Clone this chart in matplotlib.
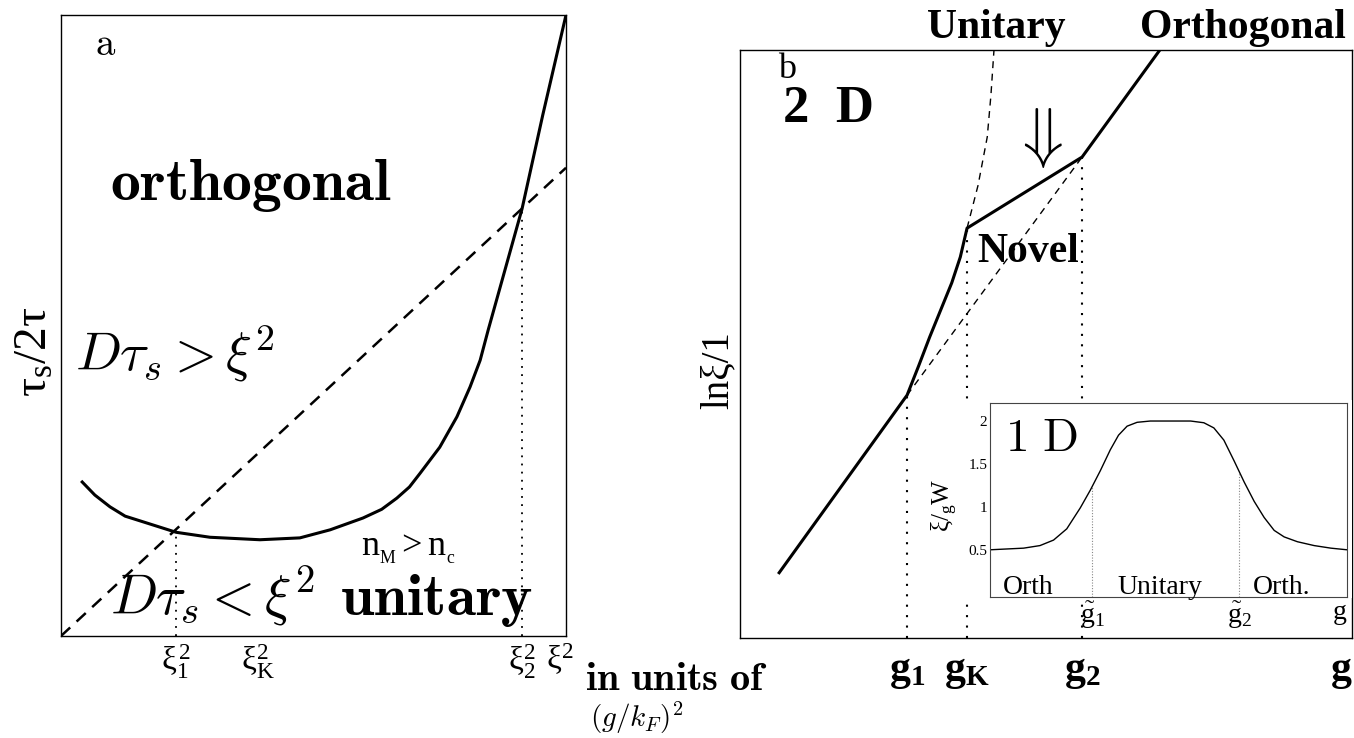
import numpy as np
import matplotlib
matplotlib.use("Agg")
import matplotlib.pyplot as plt
from matplotlib.patches import Rectangle
import matplotlib.transforms as mtransforms

plt.rcParams['font.family'] = 'serif'
plt.rcParams['font.serif'] = ['Liberation Serif', 'DejaVu Serif']
plt.rcParams['mathtext.fontset'] = 'custom'
plt.rcParams['mathtext.rm'] = 'Liberation Serif'
plt.rcParams['mathtext.it'] = 'Liberation Serif:italic'
plt.rcParams['mathtext.bf'] = 'Liberation Serif:bold'

# ---- panel a : tau_s/2tau vs xi^2 ----
a_curve_x = [0.042, 0.067, 0.097, 0.127, 0.162, 0.228, 0.295, 0.394, 0.473, 0.533,
             0.598, 0.635, 0.665, 0.690, 0.711, 0.750, 0.784, 0.810, 0.830, 0.846,
             0.879, 0.913, 0.954, 1.0]
a_curve_y = [0.248, 0.227, 0.208, 0.193, 0.184, 0.167, 0.159, 0.155, 0.158, 0.171,
             0.190, 0.204, 0.222, 0.240, 0.262, 0.304, 0.353, 0.401, 0.444, 0.493,
             0.589, 0.688, 0.839, 1.0]
a_line_x = [0.0, 1.0]          # D tau_s = xi^2
a_line_y = [0.0, 0.754]
a_ticks = [0.228, 0.39, 0.913, 0.988]
a_ticklabels = [r'$\mathrm{\xi}_1^{\,2}$', r'$\mathrm{\xi}_{\rm K}^{2}$',
                r'$\mathrm{\xi}_2^{2}$', r'$\mathrm{\xi}^{2}$']
a_crossings = [0.228, 0.913]   # xi_1^2, xi_2^2

# ---- panel b : ln xi/l vs g (2D) ----
b_line_x = [0.064, 0.273, 0.292, 0.310, 0.328, 0.346, 0.360, 0.371, 0.559, 0.686]
b_line_y = [0.111, 0.413, 0.463, 0.512, 0.558, 0.604, 0.648, 0.697, 0.818, 1.0]
b_unit_x = [0.371, 0.389, 0.404, 0.410, 0.415]
b_unit_y = [0.697, 0.770, 0.852, 0.923, 1.0]
g_pos = [0.273, 0.371, 0.559, 1.0]
g_labels = [r'$\mathbf{g_1}$', r'$\mathbf{g_K}$', r'$\mathbf{g_2}$', r'$\mathbf{g}$']

# ---- inset : xi/gW vs g (1D) ----
in_x = [0.0, 0.094, 0.140, 0.178, 0.215, 0.253, 0.281, 0.309, 0.337, 0.360, 0.384,
        0.412, 0.449, 0.562, 0.599, 0.627, 0.655, 0.684, 0.712, 0.740, 0.768,
        0.796, 0.824, 0.861, 0.908, 0.955, 1.0]
in_y = [0.5, 0.519, 0.549, 0.613, 0.744, 0.989, 1.195, 1.421, 1.665, 1.835, 1.94,
        1.985, 2.0, 2.0, 1.98, 1.92, 1.778, 1.534, 1.289, 1.064, 0.876,
        0.726, 0.650, 0.594, 0.549, 0.519, 0.5]
in_yticks = [0.5, 1.0, 1.5, 2.0]
in_yticklabels = ['0.5', '1', '1.5', '2']
in_xticks = [0.287, 0.698, 1.0]
in_xticklabels = [r'$\tilde{\rm g}_1$', r'$\tilde{\rm g}_2$', 'g']

W, H = 1354, 738
fig = plt.figure(figsize=(W / 100, H / 100), dpi=100)


def box(x0, y0, x1, y1):
    # pixel box (top-left origin) -> figure fraction rect
    return [x0 / W, 1 - y1 / H, (x1 - x0) / W, (y1 - y0) / H]


ax = fig.add_axes(box(61, 15, 566, 636))
ax.set_xlim(0, 1)
ax.set_ylim(0, 1)
ax.plot(a_curve_x, a_curve_y, color='black', lw=2.2, solid_joinstyle='round')
ax.plot(a_line_x, a_line_y, color='black', lw=1.8, ls=(0, (5, 3.5)))
for xc in a_crossings:
    yc = np.interp(xc, a_line_x, a_line_y)
    ax.plot([xc, xc], [0, yc], color='black', lw=1.3, ls=(0, (1, 3.5)))
ax.set_xticks(a_ticks)
ax.set_xticklabels(a_ticklabels, fontsize=24)
ax.tick_params(axis='x', length=0, pad=4)
ax.set_yticks([])
for s in ax.spines.values():
    s.set_linewidth(1.0)

ax.text(0.067, 0.936, r'$\mathrm{a}$', fontsize=28, math_fontfamily='cm')
ax.text(0.097, 0.702, r'$\mathbf{orthogonal}$', fontsize=43, math_fontfamily='cm')
ax.text(0.028, 0.428, r'$D\tau_s > \xi^2$', fontsize=39, math_fontfamily='cm')
ax.text(0.097, 0.034, r'$D\tau_s < \xi^2$', fontsize=40, math_fontfamily='cm')
ax.text(0.552, 0.034, r'$\mathbf{unitary}$', fontsize=43, math_fontfamily='cm')
ax.text(0.594, 0.130, r'$\mathrm{n}_{_{\rm M}}>\mathrm{n}_{_{\rm c}}$', fontsize=26)

fig.text(35 / W, 1 - 352 / H, r'$\mathrm{\tau}_{\rm s}/2\mathrm{\tau}$', fontsize=34,
         rotation=90, ha='center', va='center')
fig.text(585 / W, 1 - 690 / H, r'$\mathbf{in\ units\ of}$', fontsize=29,
         math_fontfamily='cm', va='baseline')
fig.text(590 / W, 1 - 727 / H, r'$(g/k_F)^2$', fontsize=21, math_fontfamily='cm',
         va='baseline')

# panel b
bx = fig.add_axes(box(740, 50, 1352, 638))
bx.set_xlim(0, 1)
bx.set_ylim(0, 1)
bx.plot(b_line_x, b_line_y, color='black', lw=2.2, zorder=3, solid_joinstyle='round')
bx.plot([b_line_x[1], b_line_x[-2]], [b_line_y[1], b_line_y[-2]], color='black',
        lw=1.0, ls=(0, (5, 4)))
bx.plot(b_unit_x, b_unit_y, color='black', lw=1.0, ls=(0, (5, 4)))
for gx in g_pos[:3]:
    gy = np.interp(gx, b_line_x, b_line_y)
    bx.plot([gx, gx], [0, gy], color='black', lw=1.5, ls=(0, (1, 4)))
bx.set_xticks([])
bx.set_yticks([])
for s in bx.spines.values():
    s.set_linewidth(1.0)
trans = mtransforms.blended_transform_factory(bx.transData, bx.transAxes)
for gx, lab in zip(g_pos, g_labels):
    bx.text(gx, -0.025, lab, transform=trans, fontsize=30, va='top',
            ha='right' if gx == 1.0 else 'center')

bx.text(0.062, 0.952, 'b', fontsize=26)
bx.text(0.070, 0.878, '2  D', fontsize=38, fontweight='bold')
bx.text(0.418, 1.02, 'Unitary', fontsize=30, fontweight='bold', ha='center')
bx.text(0.822, 1.02, 'Orthogonal', fontsize=30, fontweight='bold', ha='center')
bx.text(0.485, 0.85, r'$\Downarrow$', fontsize=48, ha='center', va='center',
        math_fontfamily='cm')
bx.text(0.387, 0.639, 'Novel', fontsize=30, fontweight='bold')
fig.text(718 / W, 1 - 370 / H, 'lnξ/1', fontsize=28, rotation=90,
         ha='center', va='center')

# white backing behind the 1D inset and its labels
bg = Rectangle((925 / W, 1 - 598 / H), 427 / W, 198 / H, transform=fig.transFigure,
               facecolor='white', edgecolor='none', zorder=1)
fig.patches.append(bg)

ix = fig.add_axes(box(990, 403, 1347, 597))
ix.set_zorder(2)
ix.set_xlim(0, 1)
ix.set_ylim(-0.05, 2.21)
ix.plot(in_x, in_y, color='black', lw=1.0, solid_joinstyle='round')
for tx in in_xticks[:2]:
    ty = np.interp(tx, in_x, in_y)
    ix.plot([tx, tx], [-0.05, ty], color='#888888', lw=0.8, ls=(0, (1, 1.5)))
ix.set_yticks(in_yticks)
ix.set_yticklabels(in_yticklabels, fontsize=11)
ix.set_xticks(in_xticks)
ix.set_xticklabels(in_xticklabels, fontsize=20)
ix.get_xticklabels()[-1].set_horizontalalignment('right')
ix.tick_params(length=0, pad=2)
for s in ix.spines.values():
    s.set_linewidth(0.8)
    s.set_color('#444444')
ix.text(0.042, 0.754, r'$\mathrm{1\ D}$', fontsize=34, transform=ix.transAxes,
        math_fontfamily='cm')
ix.text(0.036, 0.015, 'Orth', fontsize=20, transform=ix.transAxes)
ix.text(0.358, 0.015, 'Unitary', fontsize=20, transform=ix.transAxes)
ix.text(0.735, 0.015, 'Orth.', fontsize=20, transform=ix.transAxes)
fig.text(945 / W, 1 - 505 / H, r'$\mathrm{\xi}/_{\rm g}\mathrm{W}$', fontsize=18,
         rotation=90, ha='center', va='center')

fig.savefig('out.png', dpi=100)
